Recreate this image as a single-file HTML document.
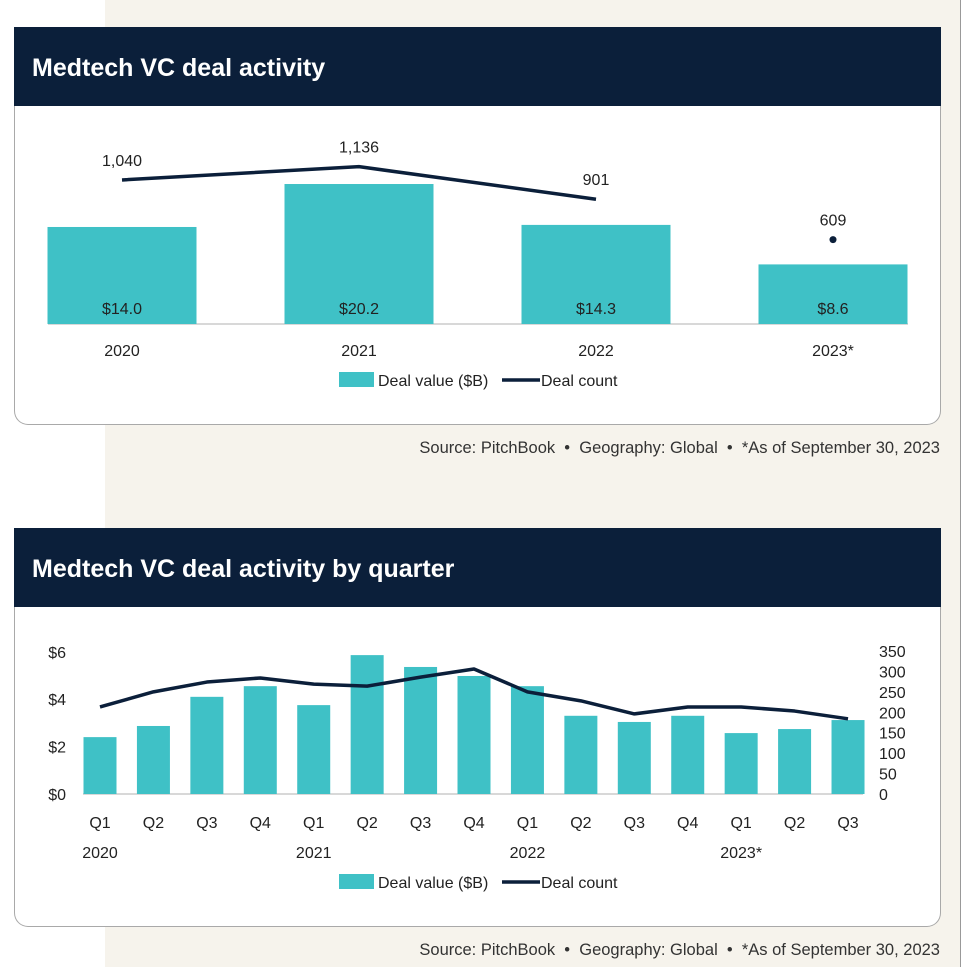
<!DOCTYPE html>
<html><head><meta charset="utf-8"><style>
body{margin:0;width:964px;height:967px;position:relative;overflow:hidden;background:#fff;font-family:"Liberation Sans",sans-serif;}
.bg{position:absolute;left:105px;top:0;width:855px;height:967px;background:#f6f3ec;border-right:1px solid #999;}
.card{position:absolute;left:14px;width:925px;background:#fff;border:1px solid #a9a9a9;border-top:none;border-radius:0 0 14px 14px;}
.hdr{position:absolute;left:14px;width:927px;background:#0b1f3a;color:#fff;font-weight:bold;font-size:25px;box-sizing:border-box;padding-left:18px;}
.src{position:absolute;right:24px;font-size:16.5px;color:#333;}
svg{position:absolute;left:0;top:0}
svg text{font-family:"Liberation Sans",sans-serif;fill:#222;}
</style></head><body>
<div class="bg"></div>
<div class="card" style="top:106px;height:318px"></div>
<div class="hdr" style="top:27px;height:79px;line-height:82px">Medtech VC deal activity</div>
<div class="src" style="top:439px">Source: PitchBook &nbsp;•&nbsp; Geography: Global &nbsp;•&nbsp; *As of September 30, 2023</div>
<div class="card" style="top:607px;height:319px"></div>
<div class="hdr" style="top:528px;height:79px;line-height:82px">Medtech VC deal activity by quarter</div>
<div class="src" style="top:941px">Source: PitchBook &nbsp;•&nbsp; Geography: Global &nbsp;•&nbsp; *As of September 30, 2023</div>
<svg id="s" width="964" height="967"></svg>
<script>
const years=["2020","2021","2022","2023*"];
const yearValues=[14.0,20.2,14.3,8.6];
const yearValueLabels=["$14.0","$20.2","$14.3","$8.6"];
const yearCounts=[1040,1136,901,609];
const yearCountLabels=["1,040","1,136","901","609"];
const quarters=["Q1","Q2","Q3","Q4","Q1","Q2","Q3","Q4","Q1","Q2","Q3","Q4","Q1","Q2","Q3"];
const quarterYears=["2020","","","","2021","","","","2022","","","","2023*","",""];
const qValues=[2.4,2.87,4.1,4.55,3.75,5.86,5.36,4.98,4.55,3.3,3.04,3.3,2.57,2.74,3.12];
const qCounts=[213,250,274,284,269,264,286,306,250,228,196,213,213,203,184];
const leftTicks=[0,2,4,6];
const rightTicks=[0,50,100,150,200,250,300,350];

const s=document.getElementById('s');const NS="http://www.w3.org/2000/svg";
function mk(t,a,txt){const e=document.createElementNS(NS,t);for(const k in a)e.setAttribute(k,a[k]);if(txt!=null)e.textContent=txt;s.appendChild(e);return e;}
const TEAL="#3fc1c6",NAVY="#0b1f3a";
const ax=i=>122+i*237, ay=v=>324-v*6.93, ay2=v=>324-v*0.1385;
mk('line',{x1:48,x2:908,y1:324,y2:324,stroke:'#ccc','stroke-width':1.5});
yearValues.forEach((v,i)=>{
 const r=mk('rect',{x:ax(i)-74.5,y:ay(v),width:149,height:324-ay(v),fill:TEAL});
 
 const t=mk('text',{x:ax(i),y:314,'text-anchor':'middle','font-size':16},yearValueLabels[i]);
 
 const c=mk('text',{x:ax(i),y:356,'text-anchor':'middle','font-size':16},years[i]);
 
});
let p=[];for(let i=0;i<3;i++)p.push(ax(i)+','+ay2(yearCounts[i]));
const pl=mk('polyline',{points:p.join(' '),fill:'none',stroke:NAVY,'stroke-width':3.5});

const dot=mk('circle',{cx:ax(3),cy:ay2(yearCounts[3]),r:3.5,fill:NAVY});

yearCounts.forEach((v,i)=>{const t=mk('text',{x:ax(i),y:ay2(v)-14,'text-anchor':'middle','font-size':16},yearCountLabels[i]);
 });
function legend(y,pref){
 const r=mk('rect',{x:339,y:y-8,width:35,height:15,fill:TEAL});
 const t=mk('text',{x:378,y:y+6,'font-size':16},'Deal value ($B)');
 const l=mk('line',{x1:502,x2:540,y1:y,y2:y,stroke:NAVY,'stroke-width':3.5});
 const t2=mk('text',{x:541,y:y+6,'font-size':16},'Deal count');
}
legend(380,'annual');
const qx=i=>100+i*53.43, qy=v=>794-v*23.7, qy2=v=>794-v*0.4086;
mk('line',{x1:83,x2:863,y1:794,y2:794,stroke:'#ccc','stroke-width':1.5});
leftTicks.forEach(v=>{const t=mk('text',{x:66,y:qy(v)+6,'text-anchor':'end','font-size':16},'$'+v);});
rightTicks.forEach(v=>{const t=mk('text',{x:879,y:qy2(v)+6,'font-size':16},String(v));});
qValues.forEach((v,i)=>{
 const r=mk('rect',{x:qx(i)-16.5,y:qy(v),width:33,height:794-qy(v),fill:TEAL});
 
 const t=mk('text',{x:qx(i),y:828,'text-anchor':'middle','font-size':16},quarters[i]);
 
 if(quarterYears[i]){const y=mk('text',{x:qx(i),y:858,'text-anchor':'middle','font-size':16},quarterYears[i]);
 }
});
const ql=mk('polyline',{points:qCounts.map((v,i)=>qx(i)+','+qy2(v)).join(' '),fill:'none',stroke:NAVY,'stroke-width':3.5,'stroke-linejoin':'round'});

legend(882,'quarterly');
</script>
</body></html>
